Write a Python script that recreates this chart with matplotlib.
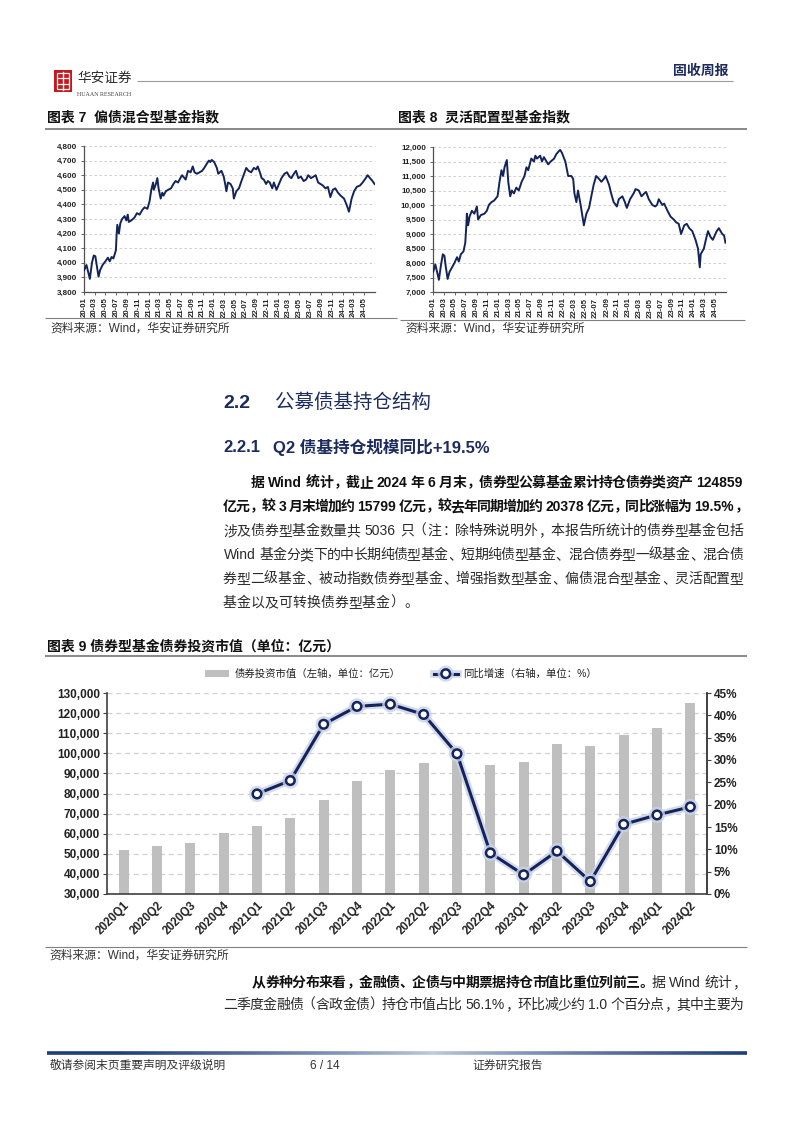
import re
import numpy as np
import pandas as pd
import matplotlib
matplotlib.use("Agg")
import matplotlib.pyplot as plt
import matplotlib.patheffects as pe
from matplotlib.lines import Line2D
from matplotlib.patches import Rectangle
from matplotlib.collections import LineCollection
from matplotlib.font_manager import FontProperties
from matplotlib.ticker import FuncFormatter, FixedLocator

# ---------------- data ----------------
DATES7 = ["2020-01-02","2020-01-15","2020-02-03","2020-02-15","2020-02-25","2020-03-05","2020-03-12","2020-03-23",
          "2020-04-01","2020-04-15","2020-05-01","2020-05-15","2020-05-25","2020-06-05","2020-06-15","2020-06-29",
          "2020-07-03","2020-07-07","2020-07-10","2020-07-16","2020-07-24","2020-08-03","2020-08-17","2020-08-27",
          "2020-09-04","2020-09-10","2020-09-24","2020-10-12","2020-10-26","2020-11-10","2020-11-24","2020-12-08",
          "2020-12-24","2021-01-05","2021-01-15","2021-01-25","2021-01-29","2021-02-10","2021-02-18","2021-02-25",
          "2021-03-09","2021-03-18","2021-03-25","2021-04-07","2021-04-20","2021-05-06","2021-05-20","2021-06-01",
          "2021-06-15","2021-06-28","2021-07-08","2021-07-28","2021-08-10","2021-08-25","2021-09-06","2021-09-16",
          "2021-09-30","2021-10-15","2021-10-29","2021-11-10","2021-11-25","2021-12-06","2021-12-14","2021-12-22",
          "2022-01-05","2022-01-20","2022-01-28","2022-02-15","2022-02-28","2022-03-08","2022-03-15","2022-03-24",
          "2022-04-07","2022-04-20","2022-04-26","2022-05-10","2022-05-25","2022-06-08","2022-06-20","2022-07-05",
          "2022-07-18","2022-08-02","2022-08-17","2022-08-30","2022-09-08","2022-09-20","2022-09-30","2022-10-12",
          "2022-10-25","2022-11-04","2022-11-15","2022-11-29","2022-12-08","2022-12-23","2023-01-06","2023-01-20",
          "2023-02-06","2023-02-20","2023-03-06","2023-03-17","2023-03-31","2023-04-12","2023-04-25","2023-05-10",
          "2023-05-25","2023-06-08","2023-06-20","2023-07-05","2023-07-20","2023-08-01","2023-08-15","2023-08-28",
          "2023-09-10","2023-09-25","2023-10-09","2023-10-23","2023-11-06","2023-11-20","2023-12-05","2023-12-20",
          "2024-01-08","2024-01-22","2024-02-05","2024-02-20","2024-03-05","2024-03-20","2024-04-08","2024-04-22",
          "2024-05-10","2024-05-20","2024-06-03","2024-06-17","2024-06-28"]
INDEX7 = [3950,3985,3890,4000,4050,4045,3990,3905,
          3950,3985,4010,4035,4010,4040,4030,4085,
          4190,4260,4240,4200,4270,4300,4320,4290,
          4330,4280,4290,4310,4340,4330,4360,4380,
          4370,4420,4500,4550,4500,4540,4580,4510,
          4440,4480,4460,4490,4500,4510,4540,4560,
          4550,4580,4600,4570,4630,4620,4660,4620,
          4610,4620,4630,4650,4680,4700,4690,4705,
          4690,4650,4610,4630,4590,4540,4490,4550,
          4540,4510,4440,4490,4510,4560,4600,4650,
          4630,4620,4650,4640,4660,4620,4580,4570,
          4540,4560,4550,4510,4550,4500,4540,4580,
          4610,4620,4590,4580,4610,4630,4580,4590,
          4560,4570,4600,4580,4590,4600,4550,4540,
          4530,4510,4520,4450,4500,4510,4480,4460,
          4440,4400,4350,4440,4490,4520,4530,4550,
          4580,4600,4580,4560,4540]

DATES8 = ["2020-01-02","2020-01-14","2020-02-03","2020-02-14","2020-02-25","2020-03-05","2020-03-12","2020-03-23",
          "2020-04-03","2020-04-17","2020-04-30","2020-05-15","2020-05-25","2020-06-05","2020-06-20","2020-06-30",
          "2020-07-06","2020-07-09","2020-07-16","2020-07-24","2020-08-06","2020-08-20","2020-09-03","2020-09-10",
          "2020-09-25","2020-10-15","2020-10-29","2020-11-09","2020-11-24","2020-12-08","2020-12-28","2021-01-08",
          "2021-01-19","2021-01-28","2021-02-05","2021-02-18","2021-02-26","2021-03-09","2021-03-18","2021-03-30",
          "2021-04-12","2021-04-26","2021-05-12","2021-05-28","2021-06-08","2021-06-18","2021-07-05","2021-07-20",
          "2021-07-28","2021-08-06","2021-08-24","2021-09-03","2021-09-14","2021-10-08","2021-10-22","2021-11-10",
          "2021-11-22","2021-12-06","2021-12-14","2021-12-24","2022-01-12","2022-01-28","2022-02-15","2022-02-25",
          "2022-03-04","2022-03-15","2022-03-24","2022-04-08","2022-04-26","2022-05-10","2022-05-25","2022-06-10",
          "2022-06-20","2022-07-04","2022-07-20","2022-08-02","2022-08-16","2022-08-26","2022-09-14","2022-09-26",
          "2022-10-10","2022-10-28","2022-11-08","2022-11-28","2022-12-12","2022-12-23","2023-01-10","2023-01-30",
          "2023-02-10","2023-02-28","2023-03-15","2023-03-31","2023-04-10","2023-04-25","2023-05-15","2023-05-31",
          "2023-06-10","2023-06-20","2023-07-10","2023-07-20","2023-08-08","2023-08-25","2023-09-12","2023-09-26",
          "2023-10-10","2023-10-23","2023-11-10","2023-11-24","2023-12-08","2023-12-25","2024-01-12","2024-01-26",
          "2024-02-05","2024-02-10","2024-02-28","2024-03-10","2024-03-22","2024-04-05","2024-04-18","2024-05-10",
          "2024-05-22","2024-06-10","2024-06-20","2024-06-28"]
INDEX8 = [7700,7950,7420,7900,8300,8250,7900,7450,
          7700,7850,8000,8200,8050,8300,8400,8700,
          9300,9700,9300,9600,9800,9700,9950,9500,
          9650,9700,9800,10000,10100,10150,10300,10800,
          11200,11000,11300,11550,10800,10300,10500,10400,
          10600,10500,10800,11000,11300,11200,11600,11500,
          11700,11600,11700,11500,11650,11400,11500,11600,
          11750,11850,11900,11800,11500,11000,11000,10900,
          10400,10100,10500,10000,9300,9700,9900,10400,
          10700,11000,10900,10800,10900,11000,10700,10400,
          10100,9950,10200,10300,10100,9900,10200,10400,
          10550,10500,10300,10400,10450,10200,10000,9950,
          10000,10200,10000,10050,9800,9600,9500,9400,
          9350,9000,9300,9350,9200,9100,8800,8500,
          7850,8300,8500,8800,9100,8900,8800,9100,
          9200,9000,8950,8700]

QUARTERS = ["2020Q1","2020Q2","2020Q3","2020Q4","2021Q1","2021Q2","2021Q3","2021Q4","2022Q1",
            "2022Q2","2022Q3","2022Q4","2023Q1","2023Q2","2023Q3","2023Q4","2024Q1","2024Q2"]
BOND_VALUE = [52100,54100,55500,60500,64000,67800,76800,86200,91500,
              95300,96500,94200,95500,104500,103800,109100,112600,124859]
YOY_QUARTERS = QUARTERS[4:]
YOY = [22.4,25.4,38.0,42.0,42.5,40.2,31.4,9.2,4.3,9.6,2.8,15.6,17.7,19.5]

LEFT_TICKS9 = list(range(30000, 130001, 10000))
RIGHT_TICKS9 = list(range(0, 46, 5))

# ---------------- page setup ----------------
W, H = 802, 1133
DPI = 100
FAM = ["Liberation Sans", "Noto Sans CJK SC", "DejaVu Sans"]
plt.rcParams["font.family"] = FAM
plt.rcParams["axes.unicode_minus"] = False
fig = plt.figure(figsize=(W / DPI, H / DPI), dpi=DPI)
fig.patch.set_facecolor("white")
renderer = fig.canvas.get_renderer()

NAVY = "#1c2c5e"
LINE_NAVY = "#14245a"


def fx(px):
    return px / W


def fy(py):
    return 1 - py / H


def add_ax(l, t, r, b):
    return fig.add_axes([fx(l), fy(b), (r - l) / W, (b - t) / H])


def hline(x0, x1, y, color="#808080", lw=1.0):
    fig.add_artist(Line2D([fx(x0), fx(x1)], [fy(y), fy(y)], transform=fig.transFigure,
                          color=color, lw=lw, solid_capstyle="butt"))


def ftext(x, y, s, size, weight="normal", color="#222222", ha="left", va="center", family=None):
    fig.text(fx(x), fy(y), s, fontsize=size, fontweight=weight, color=color, ha=ha, va=va,
             family=family if family else FAM)


PUNCT_L = set("，。、：；）」》”")
PUNCT_R = set("（「《“")


def layout_line(segments, x0, x1, yc, fs, justify=True):
    em = fs * DPI / 72.0
    boxes = []
    for text, weight, color in segments:
        prop = FontProperties(family=FAM, size=fs, weight=weight)
        for m in re.finditer(r"[A-Za-z0-9.%+\-]+| +|.", text):
            tok = m.group()
            if tok.strip() == "":
                boxes.append((tok, 0.28 * em * len(tok), prop, color, "space"))
            elif ord(tok[0]) < 128:
                w, h, d = renderer.get_text_width_height_descent(tok, prop, ismath=False)
                boxes.append((tok, w + 0.1 * em, prop, color, "ascii"))
            else:
                boxes.append((tok, em, prop, color, "cjk"))
    total = sum(b[1] for b in boxes)
    gap = 0.0
    if justify and len(boxes) > 1:
        gap = ((x1 - x0) - total) / (len(boxes) - 1)
    x = x0
    base = yc + 0.36 * em
    for tok, w, prop, color, kind in boxes:
        if kind == "ascii":
            fig.text(fx(x + 0.05 * em), fy(base), tok, fontproperties=prop, color=color,
                     ha="left", va="baseline")
        elif kind == "cjk":
            if tok in PUNCT_L:
                fig.text(fx(x + 0.08 * em), fy(base), tok, fontproperties=prop, color=color,
                         ha="left", va="baseline")
            elif tok in PUNCT_R:
                fig.text(fx(x + em - 0.08 * em), fy(base), tok, fontproperties=prop, color=color,
                         ha="right", va="baseline")
            else:
                fig.text(fx(x + em / 2), fy(base), tok, fontproperties=prop, color=color,
                         ha="center", va="baseline")
        x += w + gap


# ---------------- header ----------------
fig.add_artist(Rectangle((fx(54), fy(92)), 18 / W, 22 / H, transform=fig.transFigure,
                         facecolor="#c8161d", edgecolor="none"))
fig.add_artist(Rectangle((fx(57), fy(89)), 12 / W, 16 / H, transform=fig.transFigure,
                         facecolor="none", edgecolor="white", lw=0.9))
fig.add_artist(Line2D([fx(63), fx(63)], [fy(72), fy(90)], transform=fig.transFigure, color="white", lw=1.0))
fig.add_artist(Line2D([fx(58), fx(68)], [fy(78), fy(78)], transform=fig.transFigure, color="white", lw=0.9))
fig.add_artist(Line2D([fx(58), fx(68)], [fy(84), fy(84)], transform=fig.transFigure, color="white", lw=0.9))
ftext(77, 78, "华安证券", 9.8, color="#2a2a2a", family=["Noto Sans CJK SC"])
ftext(77, 94, "HUAAN RESEARCH", 4.3, color="#444444", family=["Liberation Serif"])
hline(137, 733, 81, color="#9a9a9a", lw=0.8)
ftext(728, 71, "固收周报", 10, weight="bold", color=NAVY, ha="right")

# ---------------- chart 7 / 8 titles ----------------
ftext(47, 117, "图表 7  偏债混合型基金指数", 10, weight="bold", color="#111111")
ftext(398, 117, "图表 8  灵活配置型基金指数", 10, weight="bold", color="#111111")
hline(45, 747, 129, color="#7f7f7f", lw=1.3)


def style_ts_axis(ax, ylo, yhi, ystep, dates, vals):
    ax.plot(pd.to_datetime(dates), vals, color=LINE_NAVY, lw=1.4, zorder=3)
    ax.set_ylim(ylo, yhi)
    ax.yaxis.set_major_locator(FixedLocator(list(range(ylo, yhi + 1, ystep))))
    ax.yaxis.set_major_formatter(FuncFormatter(lambda v, p: f"{int(v):,}"))
    ax.set_xlim(pd.Timestamp("2020-01-01"), pd.Timestamp("2024-07-01"))
    ticks = pd.date_range("2020-01-01", "2024-05-01", freq="2MS")
    ax.set_xticks(ticks)
    ax.set_xticklabels([t.strftime("%y-%m") for t in ticks], rotation=90,
                       fontsize=5.6, fontweight="bold", color="#222222")
    for lab in ax.get_yticklabels():
        lab.set_fontsize(5.8)
        lab.set_fontweight("bold")
        lab.set_color("#222222")
    ax.grid(axis="y", color="#c8c8c8", lw=0.6, ls=(0, (3, 3)))
    ax.set_axisbelow(True)
    for s in ["top", "right"]:
        ax.spines[s].set_visible(False)
    for s in ["left", "bottom"]:
        ax.spines[s].set_color("#505050")
        ax.spines[s].set_linewidth(0.9)
    ax.tick_params(axis="y", length=2, width=0.6, pad=3, colors="#505050", labelcolor="#222222")
    ax.tick_params(axis="x", length=2, width=0.6, pad=2, colors="#505050", labelcolor="#222222")


ax7 = add_ax(84, 146, 375, 292)
style_ts_axis(ax7, 3800, 4800, 100, DATES7, INDEX7)
ax8 = add_ax(433, 147, 726, 292)
style_ts_axis(ax8, 7000, 12000, 500, DATES8, INDEX8)

hline(45, 397, 318, color="#808080", lw=0.8)
hline(400, 745, 320, color="#808080", lw=0.8)
ftext(50, 329, "资料来源：Wind，华安证券研究所", 8.5, color="#333333")
ftext(405, 329, "资料来源：Wind，华安证券研究所", 8.5, color="#333333")

# ---------------- section text ----------------
ftext(223, 403, "2.2", 14, weight="bold", color=NAVY)
ftext(275, 403, "公募债基持仓结构", 14, color=NAVY)
ftext(223, 447, "2.2.1", 12, weight="bold", color=NAVY)
ftext(273, 447, "Q2 债基持仓规模同比+19.5%", 12, weight="bold", color=NAVY)

BODY = 10
layout_line([("据 Wind 统计，截止 2024 年 6 月末，债券型公募基金累计持仓债券类资产 124859", "bold", "#111111")],
            251, 743, 482, BODY)
layout_line([("亿元，较 3 月末增加约 15799 亿元，较去年同期增加约 20378 亿元，同比涨幅为 19.5%，", "bold", "#111111")],
            223, 747, 506, BODY)
layout_line([("涉及债券型基金数量共 5036 只（注：除特殊说明外，本报告所统计的债券型基金包括", "normal", "#2a2a2a")],
            223, 743, 530, BODY)
layout_line([("Wind 基金分类下的中长期纯债型基金、短期纯债型基金、混合债券型一级基金、混合债", "normal", "#2a2a2a")],
            223, 743, 554, BODY)
layout_line([("券型二级基金、被动指数债券型基金、增强指数型基金、偏债混合型基金、灵活配置型", "normal", "#2a2a2a")],
            223, 743, 578, BODY)
layout_line([("基金以及可转换债券型基金）。", "normal", "#2a2a2a")], 223, 743, 602, BODY, justify=False)

# ---------------- chart 9 ----------------
ftext(47, 647, "图表 9 债券型基金债券投资市值（单位：亿元）", 10, weight="bold", color="#111111")
hline(45, 747, 656, color="#7f7f7f", lw=1.3)

ax9 = add_ax(107, 693, 707, 894)
xpos = np.arange(len(QUARTERS))
bars = ax9.bar(xpos, BOND_VALUE, width=0.3, color="#bfbfbf", zorder=2,
               label="债券投资市值（左轴，单位：亿元）")
ax9.set_xlim(-0.5, len(QUARTERS) - 0.5)
ax9.set_ylim(LEFT_TICKS9[0], LEFT_TICKS9[-1])
ax9.yaxis.set_major_locator(FixedLocator(LEFT_TICKS9))
ax9.yaxis.set_major_formatter(FuncFormatter(lambda v, p: f"{int(v):,}"))
ax9.set_xticks(xpos)
ax9.set_xticklabels(QUARTERS, rotation=45, ha="right", rotation_mode="anchor",
                    fontsize=8.3, fontweight="bold", color="#222222")
for lab in ax9.get_yticklabels():
    lab.set_fontsize(8.5)
    lab.set_fontweight("bold")
ax9.grid(axis="y", color="#d0d0d0", lw=0.9, ls=(0, (4, 3)))
ax9.set_axisbelow(True)
ax9.spines["top"].set_visible(False)
for s in ["left", "bottom", "right"]:
    ax9.spines[s].set_color("#404040")
    ax9.spines[s].set_linewidth(1.2)
ax9.tick_params(axis="y", length=3, width=0.8, pad=2, colors="#404040", labelcolor="#222222")
ax9.tick_params(axis="x", length=0, pad=4, labelcolor="#222222")

axr = ax9.twinx()
yoy_x = [QUARTERS.index(q) for q in YOY_QUARTERS]
line, = axr.plot(yoy_x, YOY, color=LINE_NAVY, lw=2.2, marker="o", markersize=6.2,
                 markerfacecolor="white", markeredgecolor=LINE_NAVY, markeredgewidth=1.8, zorder=4,
                 label="同比增速（右轴，单位：%）",
                 path_effects=[pe.Stroke(linewidth=5.5, foreground="#c9d3e8", alpha=0.8), pe.Normal()])
axr.set_ylim(RIGHT_TICKS9[0], RIGHT_TICKS9[-1])
axr.yaxis.set_major_locator(FixedLocator(RIGHT_TICKS9))
axr.yaxis.set_major_formatter(FuncFormatter(lambda v, p: f"{int(v)}%"))
for lab in axr.get_yticklabels():
    lab.set_fontsize(8.5)
    lab.set_fontweight("bold")
for s in ["top", "left", "bottom"]:
    axr.spines[s].set_visible(False)
axr.spines["right"].set_color("#404040")
axr.spines["right"].set_linewidth(1.2)
axr.tick_params(axis="y", length=3, width=0.8, pad=2, colors="#404040", labelcolor="#222222")

leg = fig.legend(handles=[bars, line], labels=[bars.get_label(), line.get_label()],
                 loc="center", bbox_to_anchor=(fx(401), fy(674)), ncol=2, frameon=False,
                 prop=FontProperties(family=FAM, size=7.5), handlelength=2.3, handleheight=0.6,
                 columnspacing=3.2, handletextpad=0.5)
for t in leg.get_texts():
    t.set_color("#222222")

hline(45, 747, 947, color="#808080", lw=0.8)
ftext(49, 956, "资料来源：Wind，华安证券研究所", 8.5, color="#333333")

# ---------------- lower paragraph ----------------
layout_line([("从券种分布来看，金融债、企债与中期票据持仓市值比重位列前三。", "bold", "#111111"),
             ("据 Wind 统计，", "normal", "#2a2a2a")], 252, 745, 982, BODY)
layout_line([("二季度金融债（含政金债）持仓市值占比 56.1%，环比减少约 1.0 个百分点，其中主要为", "normal", "#2a2a2a")],
            223, 743, 1004, BODY)

# ---------------- footer ----------------
xs = np.linspace(47, 747, 300)
segs = [[(fx(a), fy(1053)), (fx(b), fy(1053))] for a, b in zip(xs[:-1], xs[1:])]
tt = np.linspace(0, 1, len(segs))
mix = np.clip(np.abs(tt - 0.55) / 0.45, 0, 1) ** 0.8
dark = np.array([0.12, 0.24, 0.47])
light = np.array([0.74, 0.80, 0.88])
cols = [tuple(light + (dark - light) * m) for m in mix]
fig.add_artist(LineCollection(segs, colors=cols, linewidths=2.6, transform=fig.transFigure))
ftext(50, 1066, "敬请参阅末页重要声明及评级说明", 8.5, color="#333333")
ftext(310, 1066, "6 / 14", 8.5, color="#333333")
ftext(472, 1066, "证券研究报告", 8.5, color="#333333")

fig.savefig("out.png", dpi=DPI, facecolor="white")
